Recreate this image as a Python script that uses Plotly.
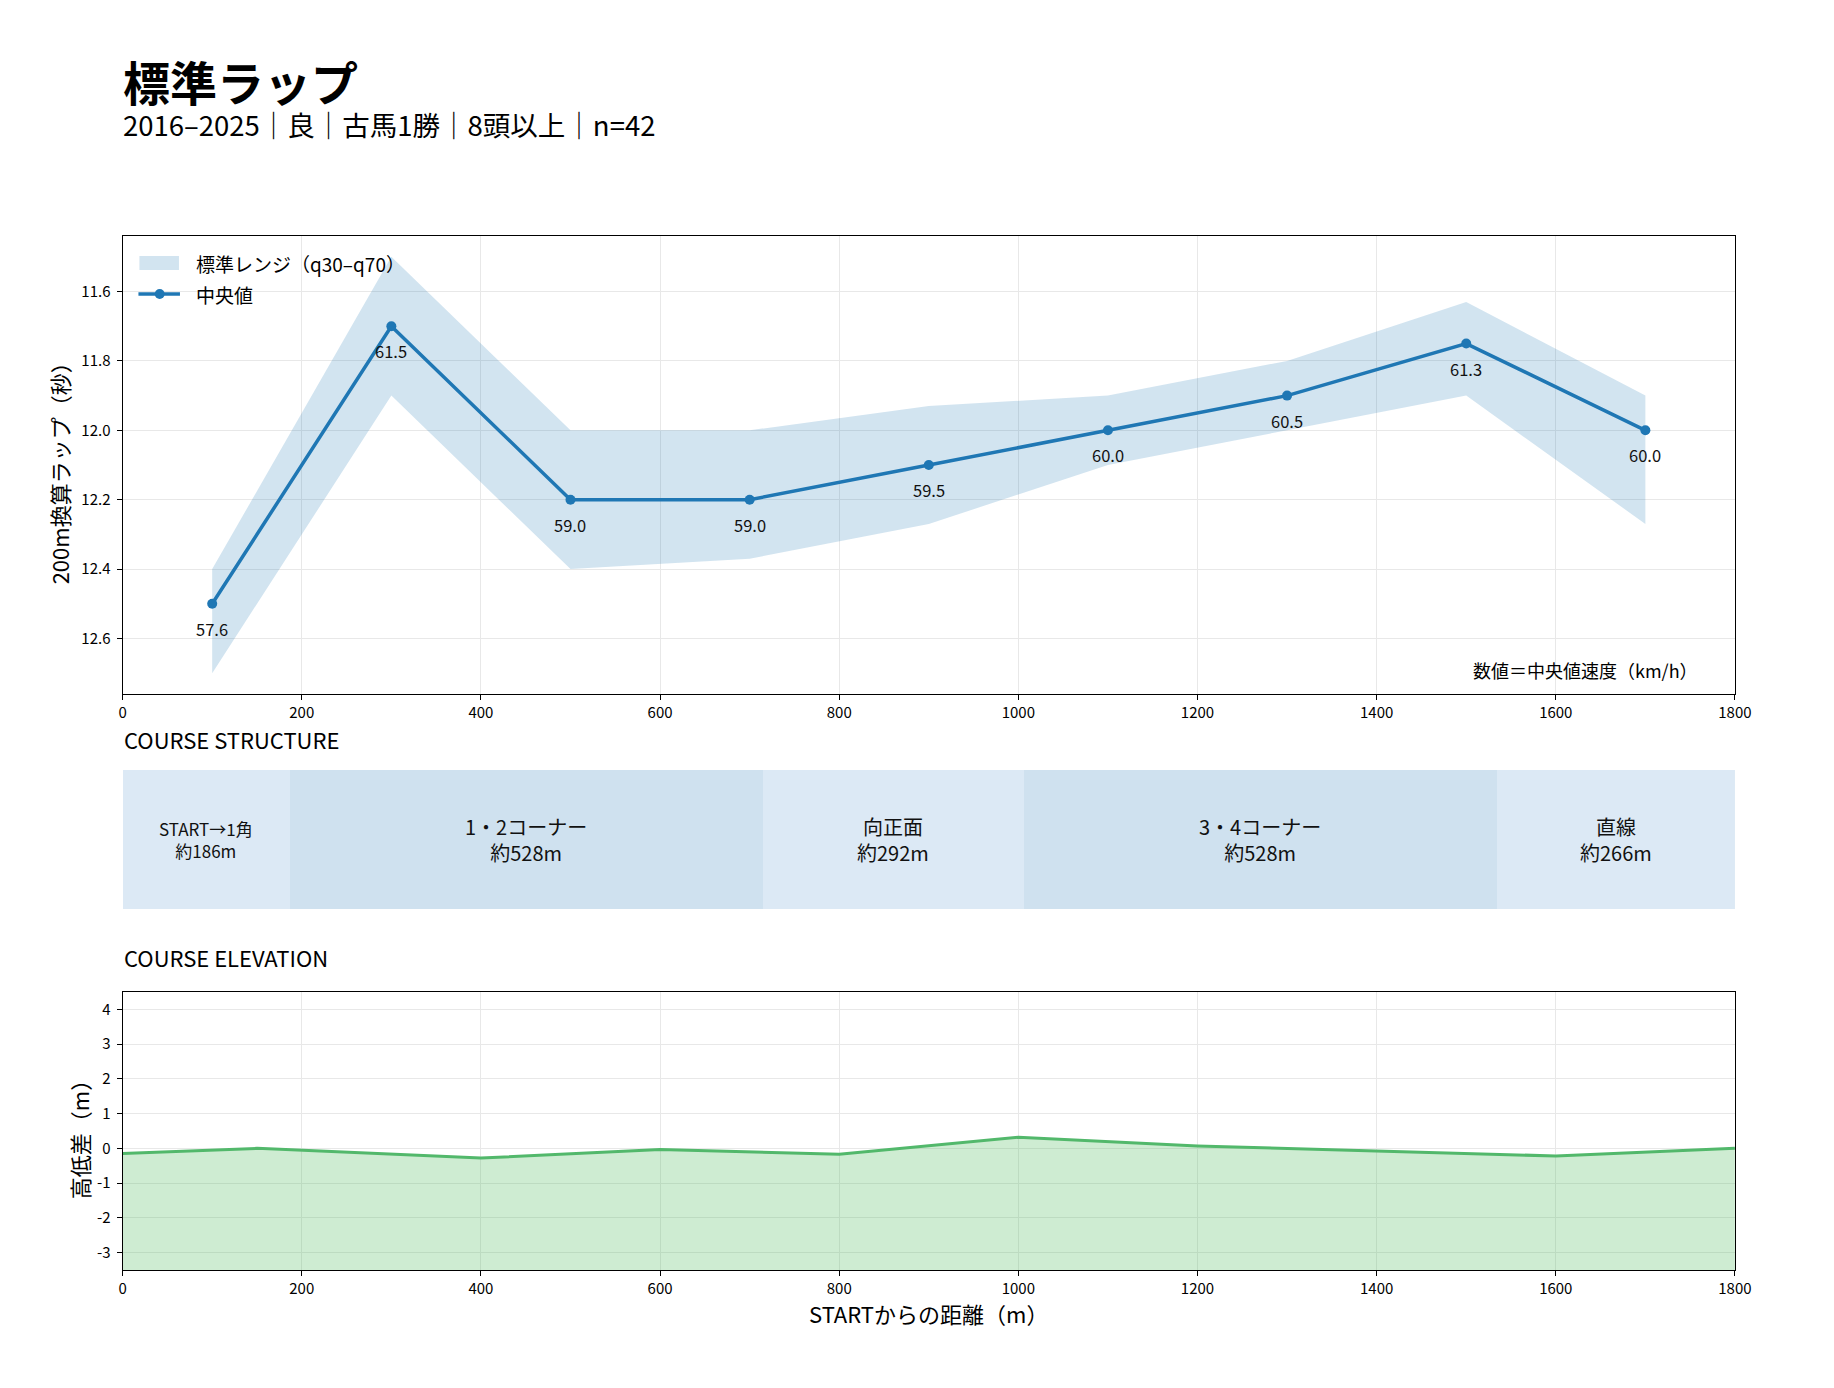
import plotly.graph_objects as go

W, H = 1834, 1388
FONT = "Noto Sans CJK JP"

# ---------------- data ----------------
lap_x = [100, 300, 500, 700, 900, 1100, 1300, 1500, 1700]
lap_median = [12.5, 11.7, 12.2, 12.2, 12.1, 12.0, 11.9, 11.75, 12.0]
lap_q30 = [12.4, 11.5, 12.0, 12.0, 11.93, 11.9, 11.8, 11.63, 11.9]
lap_q70 = [12.7, 11.9, 12.4, 12.37, 12.27, 12.1, 12.0, 11.9, 12.27]
speed_labels = ["57.6", "61.5", "59.0", "59.0", "59.5", "60.0", "60.5", "61.3", "60.0"]

segment_names = ["START→1角", "1・2コーナー", "向正面", "3・4コーナー", "直線"]
segment_lengths = [186, 528, 292, 528, 266]
segment_colors = ["#dce9f5", "#cfe1ef", "#dce9f5", "#cfe1ef", "#dce9f5"]
segment_font = [17, 20, 20, 20, 20]

elev_x = [0, 150, 400, 600, 800, 1000, 1200, 1400, 1600, 1800]
elev_y = [-0.15, 0.0, -0.28, -0.03, -0.17, 0.32, 0.07, -0.07, -0.22, 0.0]

x_ticks = [0, 200, 400, 600, 800, 1000, 1200, 1400, 1600, 1800]
lap_ticks = [11.6, 11.8, 12.0, 12.2, 12.4, 12.6]
elev_ticks = [-3, -2, -1, 0, 1, 2, 3, 4]

X_RANGE = [0, 1800]
LAP_RANGE = [12.76, 11.44]
ELEV_RANGE = [-3.5, 4.5]

BAND_NAME = "標準レンジ（q30–q70）"
MEDIAN_NAME = "中央値"
BLUE = "#1f77b4"
BAND_FILL = "rgba(31,119,180,0.2)"


def px_x(p):
    return p / W


def px_y(p):
    return 1 - p / H


segment_starts = []
acc = 0
for L in segment_lengths:
    segment_starts.append(acc)
    acc += L

fig = go.Figure()

# ---- lap band ----
fig.add_trace(go.Scatter(
    x=lap_x, y=lap_q30, mode="lines", line=dict(width=0, color="rgba(31,119,180,0)"),
    showlegend=False, hoverinfo="skip", xaxis="x", yaxis="y"))
fig.add_trace(go.Scatter(
    x=lap_x, y=lap_q70, mode="lines", line=dict(width=0, color="rgba(31,119,180,0)"),
    fill="tonexty", fillcolor=BAND_FILL, name=BAND_NAME, showlegend=False,
    xaxis="x", yaxis="y"))
fig.add_trace(go.Scatter(
    x=lap_x, y=lap_median, mode="lines+markers", name=MEDIAN_NAME, showlegend=False,
    line=dict(color=BLUE, width=3.5), marker=dict(size=10, color=BLUE),
    xaxis="x", yaxis="y"))

# ---- course structure ----
fig.add_trace(go.Bar(
    x=segment_lengths, base=segment_starts, y=[0.5] * len(segment_lengths),
    orientation="h", width=1, marker=dict(color=segment_colors, line=dict(width=0)),
    showlegend=False, hoverinfo="skip", xaxis="x2", yaxis="y2"))

# ---- elevation ----
fig.add_trace(go.Scatter(
    x=[X_RANGE[0], X_RANGE[1]], y=[ELEV_RANGE[0], ELEV_RANGE[0]], mode="lines",
    line=dict(width=0, color="rgba(0,0,0,0)"), showlegend=False, hoverinfo="skip",
    xaxis="x3", yaxis="y3"))
fig.add_trace(go.Scatter(
    x=elev_x, y=elev_y, mode="lines", line=dict(color="#52b86b", width=3),
    fill="tonexty", fillcolor="rgba(60,180,75,0.25)", showlegend=False,
    xaxis="x3", yaxis="y3"))

annotations = []
# speed labels
for xv, yv, t in zip(lap_x, lap_median, speed_labels):
    annotations.append(dict(x=xv, y=yv, xref="x", yref="y", text=t, showarrow=False,
                            yshift=-25, font=dict(family=FONT, size=16.5, color="#111")))
# structure labels
for s, L, name, fs in zip(segment_starts, segment_lengths, segment_names, segment_font):
    annotations.append(dict(x=s + L / 2, y=0.5, xref="x2", yref="y2",
                            text=f"{name}<br>約{L}m", showarrow=False,
                            font=dict(family=FONT, size=fs, color="#111")))

title_text = ("<span style='font-size:47px'><b>標準ラップ</b></span><br>"
              "<span style='font-size:27.5px'>2016–2025｜良｜古馬1勝｜8頭以上｜n=42</span>")

annotations += [
    dict(x=px_x(118), y=px_y(43.5), xref="paper", yref="paper", text=title_text,
         showarrow=False, xanchor="left", yanchor="top", align="left",
         font=dict(family=FONT, size=27.3, color="#000")),
    dict(x=px_x(119), y=px_y(739), xref="paper", yref="paper", text="COURSE STRUCTURE",
         showarrow=False, xanchor="left", yanchor="middle",
         font=dict(family=FONT, size=22, color="#000")),
    dict(x=px_x(119), y=px_y(957), xref="paper", yref="paper", text="COURSE ELEVATION",
         showarrow=False, xanchor="left", yanchor="middle",
         font=dict(family=FONT, size=22, color="#000")),
    dict(x=px_x(1716), y=px_y(670), xref="paper", yref="paper", text="数値＝中央値速度（km/h）",
         showarrow=False, xanchor="right", yanchor="middle",
         font=dict(family=FONT, size=18, color="#000")),
    dict(x=px_x(56), y=px_y(468), xref="paper", yref="paper", text="200m換算ラップ（秒）",
         showarrow=False, textangle=-90, xanchor="center", yanchor="middle",
         font=dict(family=FONT, size=22, color="#000")),
    dict(x=px_x(76), y=px_y(1134), xref="paper", yref="paper", text="高低差（m）",
         showarrow=False, textangle=-90, xanchor="center", yanchor="middle",
         font=dict(family=FONT, size=22, color="#000")),
    dict(x=px_x(935), y=px_y(1313), xref="paper", yref="paper", text="STARTからの距離（m）",
         showarrow=False, xanchor="center", yanchor="middle",
         font=dict(family=FONT, size=22, color="#000")),
    # legend texts
    dict(x=px_x(192), y=px_y(263), xref="paper", yref="paper", text=BAND_NAME,
         showarrow=False, xanchor="left", yanchor="middle",
         font=dict(family=FONT, size=19, color="#000")),
    dict(x=px_x(192), y=px_y(294), xref="paper", yref="paper", text=MEDIAN_NAME,
         showarrow=False, xanchor="left", yanchor="middle",
         font=dict(family=FONT, size=19, color="#000")),
]

# legend symbols (manual legend, transparent, no frame)
shapes = [
    dict(type="rect", xref="paper", yref="paper", x0=px_x(137), x1=px_x(177),
         y0=px_y(270), y1=px_y(256), fillcolor=BAND_FILL, line=dict(width=0)),
    dict(type="line", xref="paper", yref="paper", x0=px_x(136), x1=px_x(178),
         y0=px_y(294), y1=px_y(294), line=dict(color=BLUE, width=3.5)),
    dict(type="circle", xref="paper", yref="paper", x0=px_x(152.5), x1=px_x(162.5),
         y0=px_y(299), y1=px_y(289), fillcolor=BLUE, line=dict(width=0)),
]

XDOM = [px_x(120), px_x(1751)]
axis_common = dict(showline=True, mirror=True, linecolor="#000", linewidth=1.2,
                   ticks="outside", ticklen=5, tickwidth=1, tickcolor="#000",
                   showgrid=True, gridcolor="#e8e8e8", gridwidth=1, zeroline=False,
                   tickfont=dict(family=FONT, size=15, color="#000"))

fig.update_layout(
    width=W, height=H, margin=dict(l=0, r=0, t=0, b=0),
    paper_bgcolor="white", plot_bgcolor="white",
    font=dict(family=FONT, color="#000"),
    showlegend=False,
    xaxis=dict(domain=XDOM, anchor="y", range=X_RANGE, tickvals=x_ticks, **axis_common),
    yaxis=dict(domain=[px_y(694), px_y(236)], anchor="x", range=LAP_RANGE,
               tickvals=lap_ticks, ticktext=[f"{v:.1f}" for v in lap_ticks],
               ticklabelstandoff=3, **axis_common),
    xaxis2=dict(domain=XDOM, anchor="y2", range=X_RANGE, visible=False),
    yaxis2=dict(domain=[px_y(909), px_y(770)], anchor="x2", range=[0, 1], visible=False),
    xaxis3=dict(domain=XDOM, anchor="y3", range=X_RANGE, tickvals=x_ticks, **axis_common),
    yaxis3=dict(domain=[px_y(1270), px_y(992)], anchor="x3", range=ELEV_RANGE,
                tickvals=elev_ticks, ticktext=[str(v) for v in elev_ticks],
                ticklabelstandoff=3, **axis_common),
    annotations=annotations,
    shapes=shapes,
    bargap=0,
)

fig.write_html("out.html", config={"displayModeBar": False},
               post_script="document.body.style.margin='0';")
